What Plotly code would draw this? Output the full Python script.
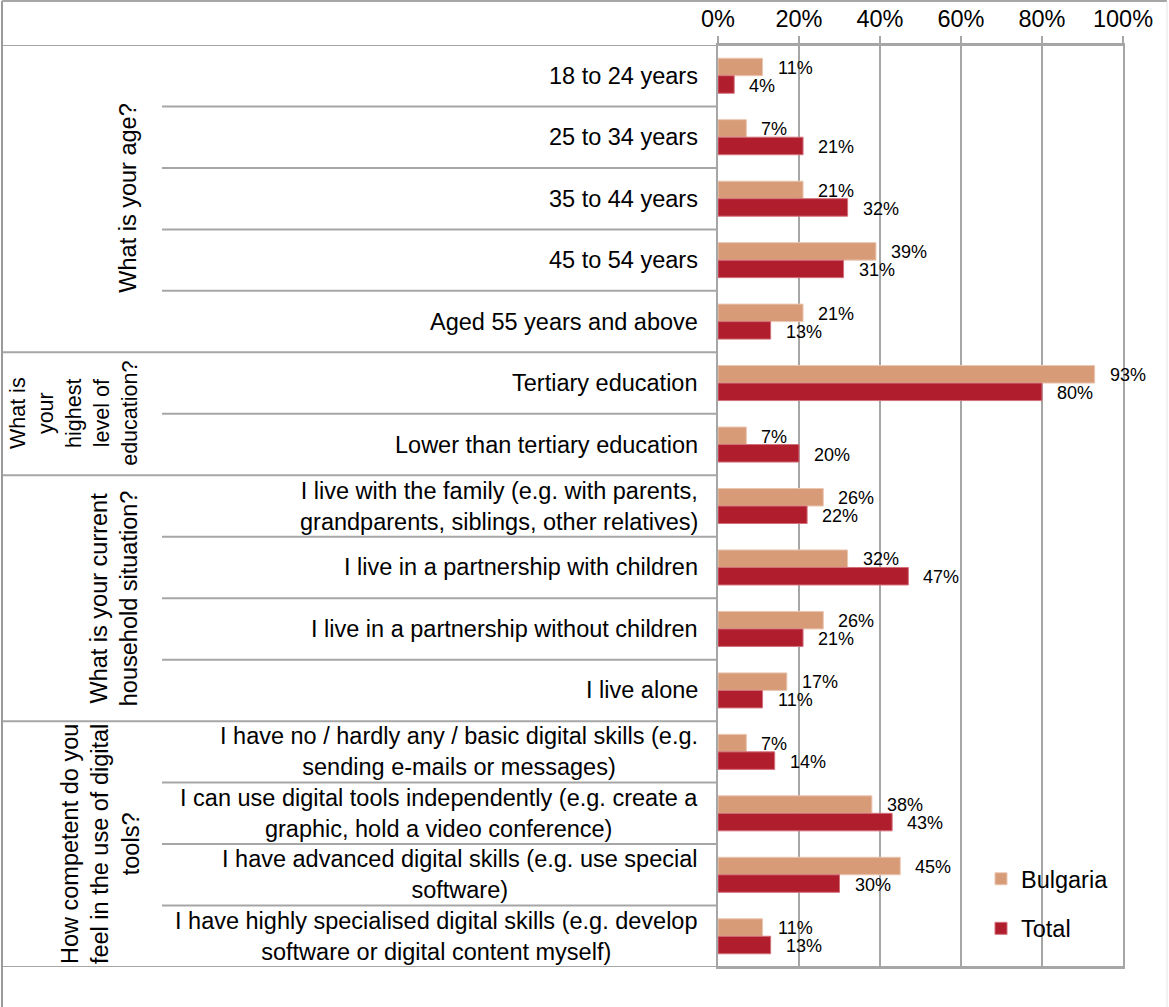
import plotly.graph_objects as go

# ---------------- data ----------------
categories = [
    "18 to 24 years",
    "25 to 34 years",
    "35 to 44 years",
    "45 to 54 years",
    "Aged 55 years and above",
    "Tertiary education",
    "Lower than tertiary education",
    "I live with the family (e.g. with parents,\ngrandparents, siblings, other relatives)",
    "I live in a partnership with children",
    "I live in a partnership without children",
    "I live alone",
    "I have no / hardly any / basic digital skills (e.g.\nsending e-mails or messages)",
    "I can use digital tools independently (e.g. create a\ngraphic, hold a video conference)",
    "I have advanced digital skills (e.g. use special\nsoftware)",
    "I have highly specialised digital skills (e.g. develop\nsoftware or digital content myself)",
]
bulgaria = [11, 7, 21, 39, 21, 93, 7, 26, 32, 26, 17, 7, 38, 45, 11]
total = [4, 21, 32, 31, 13, 80, 20, 22, 47, 21, 11, 14, 43, 30, 13]

groups = [
    "What is your age?",
    "What is\nyour\nhighest\nlevel of\neducation?",
    "What is your current\nhousehold situation?",
    "How competent do you\nfeel in the use of digital\ntools?",
]
group_sizes = [5, 2, 4, 4]

tick_vals = [0, 20, 40, 60, 80, 100]
tick_text = ["0%", "20%", "40%", "60%", "80%", "100%"]

# ---------------- style ----------------
C_BG = "#D79B78"
C_TOT = "#B01E2E"
GRID = "#A6A6A6"
FONT = "Liberation Sans, Arial, sans-serif"
LBL = 23.5

W, H = 1169, 1007
L, R, T, B = 718, 46, 45, 40
PW, PH = W - L - R, H - T - B


def px_x(p):
    return (p - L) / PW


def px_y(p):
    return (H - B - p) / PH


fig = go.Figure()
fig.add_trace(go.Bar(
    y=categories, x=bulgaria, name="Bulgaria", orientation="h",
    marker=dict(color=C_BG, line=dict(color="#EBC7B2", width=1)),
    legendgroup="a",
))
fig.add_trace(go.Bar(
    y=categories, x=total, name="Total", orientation="h",
    marker=dict(color=C_TOT, line=dict(color="#D2707A", width=1)),
    legendgroup="b",
))

annotations = []
# data labels
for c, v in zip(categories, bulgaria):
    annotations.append(dict(x=v, y=c, xref="x", yref="y", text=f"{v}%",
                            showarrow=False, xanchor="left", yanchor="middle",
                            xshift=13, yshift=8, font=dict(size=18, color="#000")))
for c, v in zip(categories, total):
    annotations.append(dict(x=v, y=c, xref="x", yref="y", text=f"{v}%",
                            showarrow=False, xanchor="left", yanchor="middle",
                            xshift=13, yshift=-10, font=dict(size=18, color="#000")))

# category labels
for c in categories:
    annotations.append(dict(x=px_x(700), y=c, xref="paper", yref="y",
                            text=c.replace("\n", "<br>"), showarrow=False,
                            xanchor="right", yanchor="middle", align="center",
                            font=dict(size=LBL, color="#000")))

# group labels (rotated)
group_x = [128, 74, 114, 100]
group_font = [LBL, 21.5, LBL, LBL]
shapes = []
start = 0
for g, n, gx, gf in zip(groups, group_sizes, group_x, group_font):
    center = start + (n - 1) / 2
    annotations.append(dict(x=px_x(gx), y=center, xref="paper", yref="y",
                            text=g.replace("\n", "<br>"), showarrow=False,
                            textangle=-90, xanchor="center", yanchor="middle",
                            align="center", font=dict(size=gf, color="#000")))
    # sub-category separators
    for k in range(1, n):
        yb = start + k - 0.5
        shapes.append(dict(type="line", xref="paper", yref="y",
                           x0=px_x(162), x1=px_x(718), y0=yb, y1=yb,
                           line=dict(color=GRID, width=2)))
    # group boundary (below group)
    yb = start + n - 0.5
    shapes.append(dict(type="line", xref="paper", yref="y",
                       x0=px_x(2), x1=px_x(718) if start + n < len(categories) else 1,
                       y0=yb, y1=yb, line=dict(color=GRID, width=2)))
    start += n

# top line of table
shapes.append(dict(type="line", xref="paper", yref="y", x0=px_x(2), x1=1,
                   y0=-0.5, y1=-0.5, line=dict(color=GRID, width=2)))
# outer frame
shapes.append(dict(type="line", xref="paper", yref="paper", x0=px_x(2), x1=px_x(2),
                   y0=px_y(1), y1=px_y(1012), line=dict(color="#9A9A9A", width=2)))
shapes.append(dict(type="line", xref="paper", yref="paper", x0=px_x(2), x1=px_x(1167),
                   y0=px_y(1), y1=px_y(1), line=dict(color="#A6A6A6", width=2)))
shapes.append(dict(type="line", xref="paper", yref="paper", x0=px_x(1167), x1=px_x(1167),
                   y0=px_y(1), y1=px_y(1012), line=dict(color="#E4E4E4", width=1)))

fig.update_layout(
    width=W, height=H,
    margin=dict(l=L, r=R, t=T, b=B, pad=0),
    paper_bgcolor="white", plot_bgcolor="white",
    font=dict(family=FONT, size=LBL, color="#000"),
    barmode="group", bargap=0.43, bargroupgap=0,
    showlegend=True,
    legend=dict(x=px_x(981), y=px_y(857), xanchor="left", yanchor="top",
                font=dict(size=LBL), traceorder="grouped", tracegroupgap=16,
                bgcolor="rgba(0,0,0,0)"),
    annotations=annotations,
    shapes=shapes,
)
fig.update_xaxes(
    side="top", range=[0, 100], tickvals=tick_vals, ticktext=tick_text,
    showgrid=True, gridcolor=GRID, gridwidth=2, zeroline=False,
    showline=True, linecolor=GRID, linewidth=2, mirror=True,
    ticks="outside", ticklen=7, tickwidth=2, tickcolor=GRID,
    tickfont=dict(size=LBL, color="#000"), automargin=False, fixedrange=True,
)
fig.update_yaxes(
    type="category", categoryorder="array", categoryarray=categories,
    range=[len(categories) - 0.5, -0.5], showticklabels=False,
    showgrid=False, zeroline=False, showline=True, linecolor=GRID, linewidth=2,
    mirror=True, ticks="", automargin=False, fixedrange=True,
)

fig.write_html("out.html", config={"displayModeBar": False},
               post_script="document.body.style.margin='0px';")
